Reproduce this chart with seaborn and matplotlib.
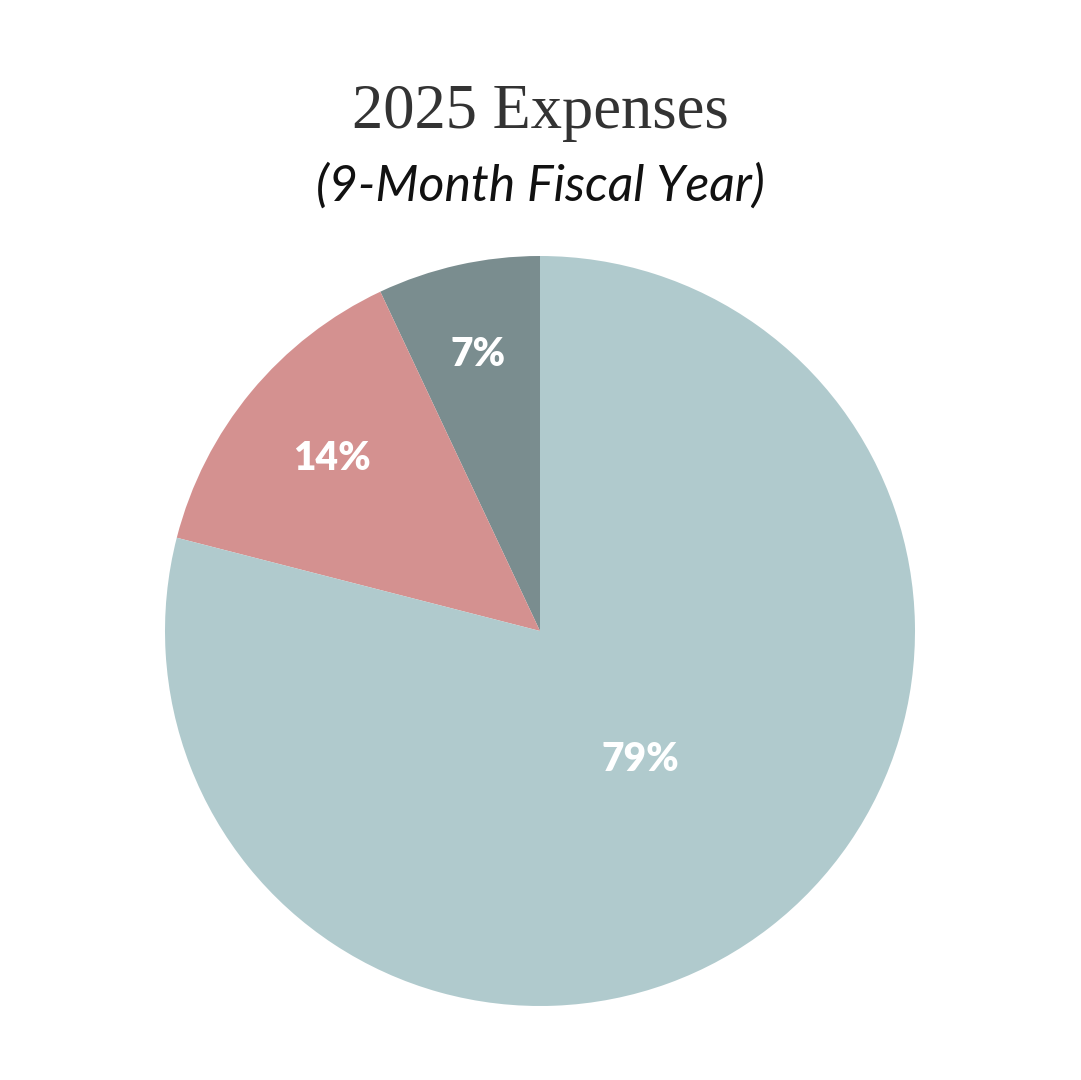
import numpy as np
import matplotlib
matplotlib.use("Agg")
import matplotlib.pyplot as plt
import seaborn as sns

sns.set_theme(style="white")
plt.rcParams['font.family'] = ['Lato', 'DejaVu Sans']

# Data
categories = ["Category C", "Category B", "Category A"]
values = [7, 14, 79]
labels = ["7%", "14%", "79%"]
colors = ["#7A8D8F", "#D49190", "#B0CACD"]
label_radius = [0.755, 0.72, 0.435]

title = "2025 Expenses"
subtitle = "(9-Month Fiscal Year)"

W, H = 1081, 1080
fig = plt.figure(figsize=(W / 100, H / 100), dpi=100)
fig.patch.set_facecolor("white")

cx, cy, r = 540, 631, 375
ax = fig.add_axes([(cx - r) / W, (H - cy - r) / H, 2 * r / W, 2 * r / H])
wedges, _ = ax.pie(values, colors=colors, startangle=90, counterclock=True,
                   radius=1.0, wedgeprops=dict(linewidth=0))
ax.set_xlim(-1, 1)
ax.set_ylim(-1, 1)
ax.set_aspect("equal")
ax.axis("off")

for w, lab, rr in zip(wedges, labels, label_radius):
    mid = np.deg2rad((w.theta1 + w.theta2) / 2)
    ax.text(rr * np.cos(mid), rr * np.sin(mid), lab, ha="center", va="center",
            color="white", fontsize=28, fontweight="heavy", family=["Lato", "DejaVu Sans"])

fig.text(0.5, 1 - 113 / H, title, ha="center", va="center", fontsize=45,
         color="#333333", family=["Liberation Serif", "DejaVu Serif"])
fig.text(0.5, 1 - 186 / H, subtitle, ha="center", va="center", fontsize=36,
         color="#111111", style="italic", fontweight="normal",
         family=["Lato", "DejaVu Sans"])

fig.savefig("out.png", dpi=100, facecolor="white")
